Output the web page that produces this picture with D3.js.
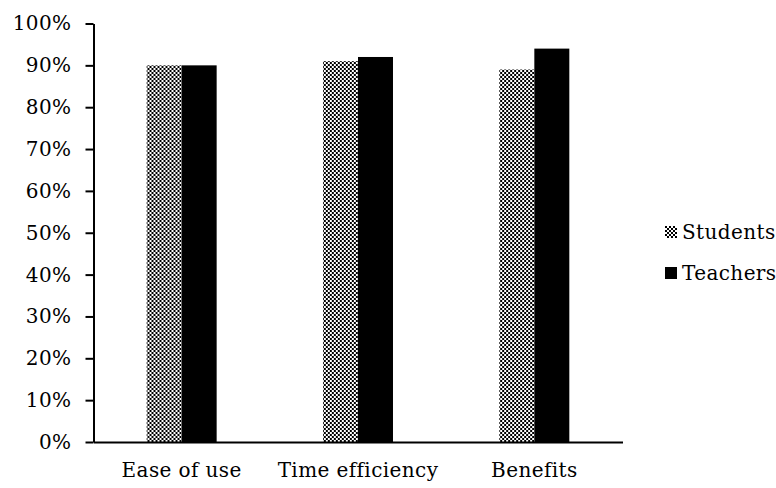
<!DOCTYPE html>
<html>
<head>
<meta charset="utf-8">
<script src="https://cdn.jsdelivr.net/npm/d3@7"></script>
<style>
  body { margin: 0; background: #fff; }
  svg text { font-family: "DejaVu Serif", serif; font-size: 20px; letter-spacing: 0.4px; fill: #000; }
</style>
</head>
<body>
<svg id="chart"></svg>
<script>
// data
const categories = ["Ease of use", "Time efficiency", "Benefits"];
const seriesNames = ["Students", "Teachers"];
const students = [0.90, 0.91, 0.89];
const teachers = [0.90, 0.92, 0.94];
const yTicks = [0, 0.1, 0.2, 0.3, 0.4, 0.5, 0.6, 0.7, 0.8, 0.9, 1.0];

const width = 776, height = 488;
const margin = { top: 23.5, left: 93.5, right: 153.5, bottom: 46 };

const svg = d3.select('#chart')
    .attr('width', width)
    .attr('height', height);

// checker fill for the student bars
const defs = svg.append('defs');
const pat = defs.append('pattern')
    .attr('id', 'checker')
    .attr('patternUnits', 'userSpaceOnUse')
    .attr('width', 4)
    .attr('height', 4);
pat.append('rect').attr('width', 4).attr('height', 4).attr('fill', '#000');
pat.append('rect').attr('x', 0).attr('y', 0).attr('width', 2).attr('height', 2).attr('fill', '#fff');
pat.append('rect').attr('x', 2).attr('y', 2).attr('width', 2).attr('height', 2).attr('fill', '#fff');

const fills = { Students: 'url(#checker)', Teachers: '#000' };

const x0 = d3.scaleBand()
    .domain(categories)
    .range([margin.left, width - margin.right])
    .padding(0);

const x1 = d3.scaleBand()
    .domain(seriesNames)
    .range([0, x0.bandwidth()])
    .paddingInner(0)
    .paddingOuter(1.52);

const y = d3.scaleLinear()
    .domain([0, 1])
    .range([height - margin.bottom, margin.top]);

const rows = categories.map((c, i) => ({
    category: c,
    values: [
        { key: 'Students', value: students[i] },
        { key: 'Teachers', value: teachers[i] }
    ]
}));

// bars
const groups = svg.append('g').selectAll('g')
    .data(rows)
    .join('g')
    .attr('transform', d => `translate(${x0(d.category)},0)`);

groups.selectAll('rect')
    .data(d => d.values)
    .join('rect')
    .attr('x', d => x1(d.key))
    .attr('width', x1.bandwidth())
    .attr('y', d => y(d.value))
    .attr('height', d => y(0) - y(d.value))
    .attr('fill', d => fills[d.key]);

// y axis
const yAxis = svg.append('g')
    .attr('transform', `translate(${margin.left},0)`)
    .call(d3.axisLeft(y)
        .tickValues(yTicks)
        .tickFormat(d3.format('.0%'))
        .tickSize(8)
        .tickSizeOuter(0)
        .tickPadding(14));
yAxis.select('.domain').attr('stroke', '#000').attr('stroke-width', 2);
yAxis.selectAll('.tick line').attr('stroke', '#000').attr('stroke-width', 2);
yAxis.selectAll('.tick text').attr('font-size', null).attr('font-family', null);

// x axis
const xAxis = svg.append('g')
    .attr('transform', `translate(0,${y(0)})`)
    .call(d3.axisBottom(x0).tickSize(0).tickSizeOuter(0).tickPadding(21));
xAxis.select('.domain').attr('stroke', '#000').attr('stroke-width', 2);
xAxis.selectAll('.tick text').attr('font-size', null).attr('font-family', null);

// legend
const legend = svg.append('g')
    .attr('transform', 'translate(665,0)');
const legendY = d3.scalePoint()
    .domain(seriesNames)
    .range([232, 273]);
const items = legend.selectAll('g')
    .data(seriesNames)
    .join('g')
    .attr('transform', d => `translate(0,${legendY(d)})`);
items.append('rect')
    .attr('x', 0)
    .attr('y', -6)
    .attr('width', 12)
    .attr('height', 12)
    .attr('fill', d => fills[d]);
items.append('text')
    .attr('x', 17)
    .attr('dy', '0.35em')
    .text(d => d);
</script>
</body>
</html>
